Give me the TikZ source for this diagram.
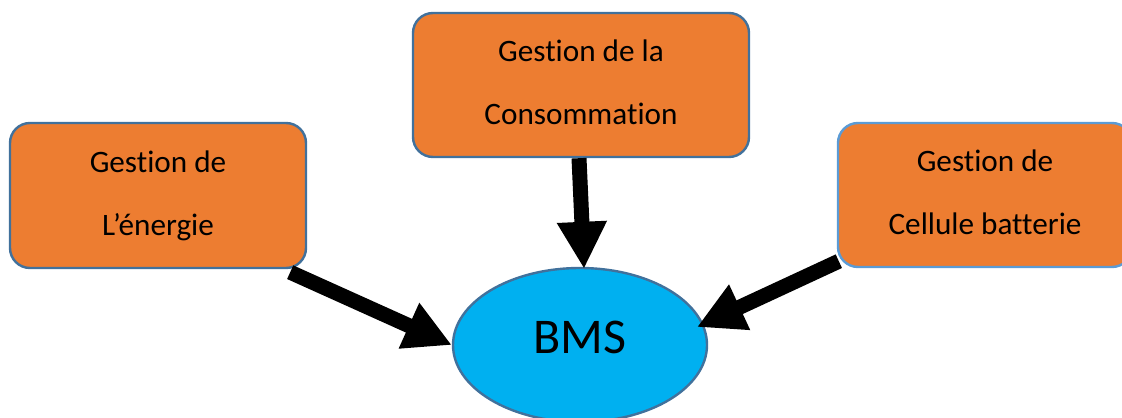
\documentclass[tikz,border=0pt]{standalone}
\usepackage{fontspec}
\setmainfont{Carlito}[Ligatures={NoCommon}]
\usetikzlibrary{arrows.meta,shapes.geometric,calc}
\definecolor{boxorange}{HTML}{ED7D31}
\definecolor{edgeblue}{HTML}{41719C}
\definecolor{edgelight}{HTML}{5B9BD5}
\definecolor{bmsblue}{HTML}{00B0F0}
\begin{document}
\begin{tikzpicture}[x=0.5pt,y=-0.5pt,
  gbox/.style={draw=edgeblue, line width=1.2pt, fill=boxorange, rounded corners=10pt,
    align=center, inner sep=0pt, font=\fontsize{15.6pt}{31.5pt}\selectfont},
  bigarrow/.style={line width=7.5pt, -{Triangle[length=23.5pt,width=23.5pt]}},
]
\useasboundingbox (0,0) rectangle (1122,417);
\clip (0,0) rectangle (1122,417);
\node[gbox, minimum width=148pt, minimum height=72.5pt] (lbox) at (158,195.5)
  {Gestion de\vphantom{dg}\\L’énergie\vphantom{dg}};
\node[gbox, minimum width=168pt, minimum height=72pt] (cbox) at (581,85)
  {Gestion de la\vphantom{dg}\\Consommation\vphantom{dg}};
\node[gbox, draw=edgelight, minimum width=147pt, minimum height=72pt] (rbox) at (985,195)
  {Gestion de\vphantom{dg}\\Cellule batterie\vphantom{dg}};
\node[ellipse, draw=edgeblue, line width=1.2pt, fill=bmsblue, minimum width=127pt,
  minimum height=77pt, inner sep=0pt, font=\fontsize{25pt}{30pt}\selectfont,
  text depth=8pt] (bms) at (580,345) {BMS};
\draw[bigarrow] ($(lbox.south east)+(-17,3)$) -- (bms.west);
\draw[bigarrow] ($(cbox.south)+(-2,0)$) -- ($(bms.north)+(4,2)$);
\draw[bigarrow] ($(rbox.south west)+(2,-7)$) -- ($(bms.center)+(117,-18)$);
\end{tikzpicture}
\end{document}
